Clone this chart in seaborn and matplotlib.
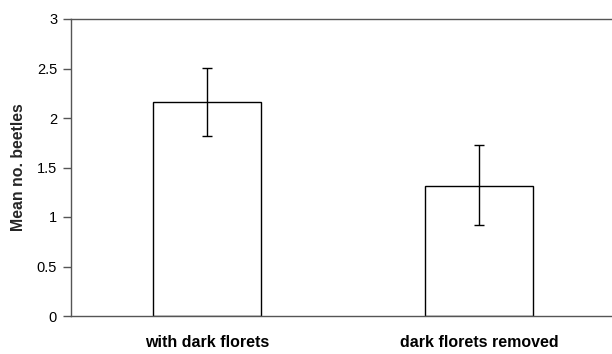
import matplotlib
matplotlib.use("Agg")
import matplotlib.pyplot as plt
import matplotlib.transforms as mtransforms
import seaborn as sns
import pandas as pd
import numpy as np

categories = ["with dark florets", "dark florets removed"]
means = [2.165, 1.316]
err_low = [1.815, 0.919]
err_high = [2.51, 1.727]
yticks = [0, 0.5, 1, 1.5, 2, 2.5, 3]
ytick_labels = ["0", "0.5", "1", "1.5", "2", "2.5", "3"]

sns.set_theme(style="white")
plt.rcParams["font.family"] = ["Liberation Sans", "DejaVu Sans"]

df = pd.DataFrame({"cat": categories, "mean": means})

fig = plt.figure(figsize=(6.12, 3.54), dpi=100)
ax = fig.add_axes([71/612, 1-316/354, 544/612, (316-19)/354])

sns.barplot(data=df, x="cat", y="mean", order=categories, errorbar=None,
            color="white", edgecolor="black", linewidth=1.0, width=0.4, ax=ax)

x = np.arange(len(categories))
m = np.array(means)
yerr = np.vstack([m - np.array(err_low), np.array(err_high) - m])
ax.errorbar(x, m, yerr=yerr, fmt="none", ecolor="black", elinewidth=1.0,
            capsize=3.3, capthick=1.0, zorder=5)

ax.set_xlim(-0.5, 1.5)
ax.set_ylim(0, 3)
ax.set_yticks(yticks)
ax.set_yticklabels(ytick_labels, fontsize=10.5)
ax.set_xticks(x)
ax.set_xticklabels(categories, fontsize=11.5, fontweight="bold")
ax.set_xlabel("")
ax.set_ylabel("Mean no. beetles", fontsize=11.4, fontweight="bold", labelpad=8)

# Slight right shift of category labels as in the reference
for lab, dx in zip(ax.get_xticklabels(), [7, 12]):
    lab.set_transform(lab.get_transform() +
                      mtransforms.ScaledTranslation(dx/100, 0, fig.dpi_scale_trans))

for s in ["left", "bottom", "top"]:
    ax.spines[s].set_visible(True)
    ax.spines[s].set_color("#555555")
    ax.spines[s].set_linewidth(1.0)
ax.spines["right"].set_visible(False)

ax.tick_params(axis="y", direction="out", length=6, width=1, color="#555555",
               left=True, pad=4, labelcolor="black")
ax.tick_params(axis="x", length=0, pad=14, labelcolor="black")

fig.savefig("out.png", dpi=100)
